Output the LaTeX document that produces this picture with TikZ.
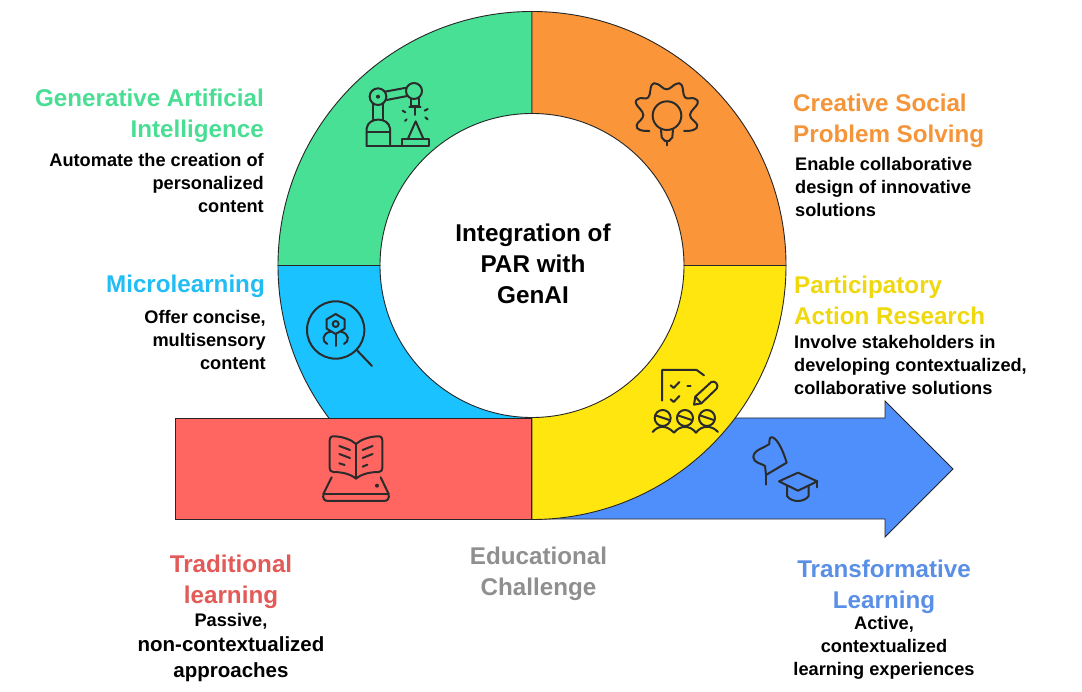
\documentclass[tikz,border=0pt]{standalone}
\usepackage{fontspec}
\setmainfont{Liberation Sans}
\definecolor{cgreen}{HTML}{47E095}
\definecolor{corange}{HTML}{FA9639}
\definecolor{cyellow}{HTML}{FFE60F}
\definecolor{cblue}{HTML}{1AC2FF}
\definecolor{cred}{HTML}{FF6661}
\definecolor{carrow}{HTML}{4F8FFB}
\definecolor{hgreen}{HTML}{4ADE95}
\definecolor{horange}{HTML}{F5953A}
\definecolor{hyellow}{HTML}{F0D80E}
\definecolor{hblue}{HTML}{22BDF5}
\definecolor{hred}{HTML}{E25B58}
\definecolor{harrow}{HTML}{5A8FE6}
\definecolor{hgrey}{HTML}{8F8F8F}
\definecolor{ink}{HTML}{2B2B2B}
\tikzset{
  seg/.style={draw=black!85,line width=0.9pt},
  icon/.style={draw=ink,line width=2pt,line cap=round,line join=round,fill=none},
  head/.style={font=\fontsize{24.2}{31}\selectfont\bfseries,inner sep=0pt},
  body/.style={font=\fontsize{18.2}{23}\selectfont\bfseries,inner sep=0pt,text=black},
  zoomed/.style={shift={#1},scale=0.33333}
}
\begin{document}
\begin{tikzpicture}[x=1pt,y=-1pt]
\useasboundingbox (0,0) rectangle (1082,692);
\fill[white] (0,0) rectangle (1082,692);
% arrow
\path[seg,fill=carrow] (532,519) -- (532,418) -- (885,418) -- (885,401) -- (953,469) -- (885,537) -- (885,519) -- cycle;
% ring segments
\path[seg,fill=cgreen] (278,265.5) arc[start angle=180,end angle=270,radius=254] -- (532,113.5) arc[start angle=270,end angle=180,radius=152] -- cycle;
\path[seg,fill=corange] (532,11.5) arc[start angle=270,end angle=360,radius=254] -- (684,265.5) arc[start angle=360,end angle=270,radius=152] -- cycle;
\path[seg,fill=cblue] (278,265.5) arc[start angle=180,end angle=90,radius=254] -- (532,417.5) arc[start angle=90,end angle=180,radius=152] -- cycle;
\path[seg,fill=cyellow] (786,265.5) arc[start angle=0,end angle=90,radius=254] -- (532,417.5) arc[start angle=90,end angle=0,radius=152] -- cycle;
\path[seg,fill=cred] (175,418) rectangle (531,519);
% robot icon
\begin{scope}[zoomed={(300,60)}]
\draw[icon] (200,258) -- (388,258) -- (388,236) -- (306,236) -- (306,258);
\draw[icon] (200,258) -- (200,205) .. controls (205,170) and (265,170) .. (270,205) -- (270,258);
\draw[icon] (200,216) -- (270,216);
\draw[icon] (220,178) -- (220,130);
\draw[icon] (248,178) -- (248,130);
\draw[icon] (234,110) circle[radius=25];
\fill[ink] (234,110) circle[radius=6];
\draw[icon] (255,95) -- (320,83);
\draw[icon] (260,120) -- (322,108);
\draw[icon] (342,93) circle[radius=24];
\draw[icon] (333,116) -- (333,138) -- (358,138) -- (358,116);
\draw[icon] (328,142) -- (362,142);
\draw[icon] (346,142) -- (346,165);
\draw[icon] (324,236) -- (347,184) -- (370,236) ;
\draw[icon] (308,152) -- (316,157);
\draw[icon] (374,152) -- (383,147);
\draw[icon] (315,183) -- (320,178);
\draw[icon] (376,172) -- (383,178);
\end{scope}
% bulb icon
\begin{scope}[zoomed={(610,60)}]
\draw[icon] plot[smooth,tension=0.7] coordinates {(118,213) (90,210) (80,195) (100,165) (78,130) (88,115) (115,112) (125,75) (142,72) (170,88) (198,72) (215,75) (225,112) (252,115) (263,130) (240,165) (262,195) (250,210) (222,213)};
\draw[icon] (171,167) circle[radius=43];
\draw[icon] (153,208) -- (155,232) -- (165,243) -- (177,243) -- (187,232) -- (189,208);
\draw[icon] (171,243) -- (171,256);
\end{scope}
% magnifier icon
\begin{scope}[zoomed={(290,290)}]
\draw[icon] (137,120) circle[radius=86];
\draw[icon] (202,182) -- (246,228);
\draw[icon] (137,72) -- (164,88) -- (164,116) -- (137,132) -- (110,116) -- (110,88) -- cycle;
\draw[icon] (137,102) circle[radius=9];
\draw[icon] (137,132) -- (137,168);
\draw[icon] (122,125) .. controls (95,130) and (95,155) .. (112,162);
\draw[icon] (152,125) .. controls (179,130) and (179,155) .. (162,162);
\end{scope}
% research icon
\begin{scope}[zoomed={(630,350)}]
\draw[icon] (96,152) -- (96,60) -- (200,60) -- (222,76);
\draw[icon] (122,106) -- (131,114) -- (148,96);
\draw[icon] (122,148) -- (131,156) -- (148,138);
\draw[icon] (172,107) -- (182,107);
\draw[icon] (192,164) -- (196,140) -- (244,96) .. controls (255,90) and (268,105) .. (260,116) -- (214,160) -- cycle;
\draw[icon] (196,140) -- (214,160);
\foreach \p in {98,165,231}{
  \draw[icon] (\p,204) circle[radius=24];
  \draw[icon] (\p-22,196) -- (\p+20,210);
}
\draw[icon] (68,246) .. controls (85,225) and (110,225) .. (132,248) .. controls (150,225) and (180,225) .. (198,248) .. controls (215,225) and (245,225) .. (264,246);
\end{scope}
% book icon
\begin{scope}[zoomed={(300,420)}]
\draw[icon] (168,176) .. controls (150,160) and (120,156) .. (100,156) .. controls (92,156) and (89,150) .. (89,144) -- (89,62) .. controls (89,52) and (94,48) .. (104,49) .. controls (130,50) and (155,60) .. (168,72) .. controls (181,60) and (206,50) .. (232,49) .. controls (242,48) and (247,52) .. (247,62) -- (247,144) .. controls (247,150) and (244,156) .. (236,156) .. controls (216,156) and (186,160) .. (168,176) -- cycle;
\draw[icon] (168,72) -- (168,176);
\draw[icon] (118,78) -- (150,90);
\draw[icon] (118,102) -- (150,114);
\draw[icon] (118,130) -- (134,135);
\draw[icon] (218,78) -- (188,90);
\draw[icon] (218,102) -- (188,114);
\draw[icon] (202,134) -- (188,140);
\draw[icon] (95,172) -- (70,222) .. controls (68,235) and (72,243) .. (84,243) -- (252,243) .. controls (264,243) and (268,235) .. (266,222) -- (242,172);
\draw[icon] (72,222) -- (264,222);
\fill[ink] (231,197) circle[radius=6];
\end{scope}
% transformative icon
\begin{scope}[zoomed={(730,420)}]
\draw[icon] (108,194) -- (108,165);
\draw[icon] (108,165) -- (170,128) .. controls (160,95) and (145,60) .. (128,52) .. controls (120,50) and (118,55) .. (118,72) .. controls (100,85) and (70,90) .. (70,112) .. controls (72,130) and (95,130) .. (105,138) -- (108,165);
\draw[icon] (147,184) -- (204,158) -- (262,184) -- (204,212) -- cycle;
\draw[icon] (262,184) -- (262,202);
\draw[icon] (171,198) -- (171,228) .. controls (185,248) and (222,248) .. (236,228) -- (236,198);
\end{scope}
% centre
\node[font=\fontsize{24.3}{31}\selectfont\bfseries,align=center,inner sep=0pt] (centre) at (533,264) {Integration of\\PAR with\\GenAI};
% labels
\node[head,text=hgreen,align=right,anchor=north east] (genai) at (264,89) {Generative Artificial\\Intelligence};
\node[body,align=right,anchor=north east] (genaib) at (264,153) {Automate the creation of\\personalized\\content};
\node[head,text=horange,align=left,anchor=north west] (csps) at (793,94) {Creative Social\\Problem Solving};
\node[body,align=left,anchor=north west] (cspsb) at (795,157) {Enable collaborative\\design of innovative\\solutions};
\node[head,text=hblue,align=right,anchor=north east] (micro) at (265,275) {Microlearning};
\node[body,align=right,anchor=north east] (microb) at (266,310) {Offer concise,\\multisensory\\content};
\node[head,text=hyellow,align=left,anchor=north west] (par) at (794,276) {Participatory\\Action Research};
\node[body,align=left,anchor=north west] (parb) at (794,335) {Involve stakeholders in\\developing contextualized,\\collaborative solutions};
\node[head,text=hred,align=center,anchor=north] (trad) at (231,555) {Traditional\\learning};
\node[body,align=center,anchor=north,font=\fontsize{18.2}{25.5}\selectfont\bfseries] (tradb) at (231,613) {Passive,\\{\fontsize{20.5}{25.5}\selectfont non-contextualized}\\{\fontsize{20.5}{25.5}\selectfont approaches}};
\node[head,text=hgrey,align=center,anchor=north] (edu) at (538.5,547) {Educational\\Challenge};
\node[head,text=harrow,align=center,anchor=north] (trans) at (884,560) {Transformative\\Learning};
\node[body,align=center,anchor=north] (transb) at (884,616) {Active,\\contextualized\\learning experiences};
\end{tikzpicture}
\end{document}
